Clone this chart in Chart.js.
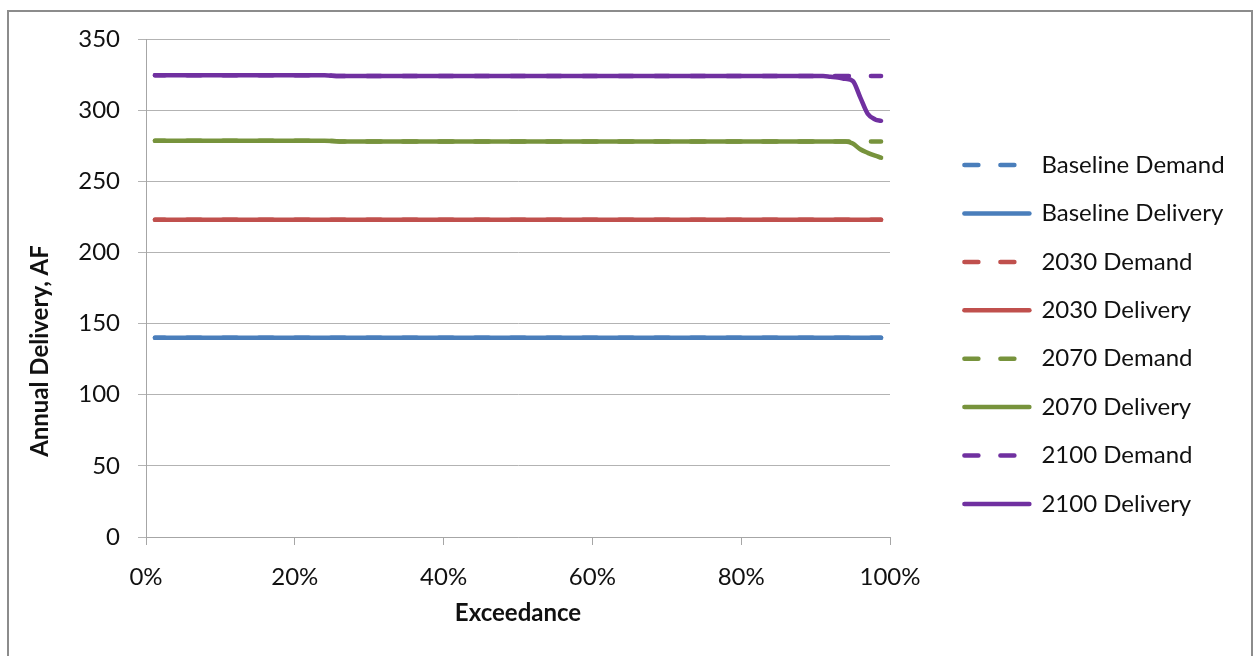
<!DOCTYPE html>
<html>
<head>
<meta charset="utf-8">
<script src="https://cdn.jsdelivr.net/npm/chart.js@4.4.1/dist/chart.umd.min.js"></script>
<style>
  body { margin: 0; background: #fff; }
  .frame { position: absolute; left: 7px; top: 10px; width: 1242px; height: 700px; border: 2px solid #8c8c8c; background: #fff; }
  #chart { position: absolute; left: 0; top: 0; }
</style>
</head>
<body>
<div class="frame"></div>
<canvas id="chart" width="1255" height="656"></canvas>
<script>
const ctx = document.getElementById('chart').getContext('2d');

// exceedance probability (%) of each sorted year
const exceedance = [1.2, 5, 10, 15, 20, 24, 26, 30, 40, 50, 60, 70, 80, 85, 90, 91, 92, 93, 94, 95, 96, 97, 98, 98.8];

// annual demand / delivery, AF
const baselineDemand   = [140, 140, 140, 140, 140, 140, 140, 140, 140, 140, 140, 140, 140, 140, 140, 140, 140, 140, 140, 140, 140, 140, 140, 140];
const baselineDelivery = [140, 140, 140, 140, 140, 140, 140, 140, 140, 140, 140, 140, 140, 140, 140, 140, 140, 140, 140, 140, 140, 140, 140, 140];
const demand2030       = [223, 223, 223, 223, 223, 223, 223, 223, 223, 223, 223, 223, 223, 223, 223, 223, 223, 223, 223, 223, 223, 223, 223, 223];
const delivery2030     = [223, 223, 223, 223, 223, 223, 223, 223, 223, 223, 223, 223, 223, 223, 223, 223, 223, 223, 223, 223, 223, 223, 223, 223];
const demand2070       = [278.5, 278.5, 278.5, 278.5, 278.5, 278.5, 278, 278, 278, 278, 278, 278, 278, 278, 278, 278, 278, 278, 278, 278, 278, 278, 278, 278];
const delivery2070     = [278.5, 278.5, 278.5, 278.5, 278.5, 278.5, 278, 278, 278, 278, 278, 278, 278, 278, 278, 278, 278, 278, 278, 276.5, 272.5, 270, 268, 266.6];
const demand2100       = [324.5, 324.5, 324.5, 324.5, 324.5, 324.5, 324, 324, 324, 324, 324, 324, 324, 324, 324, 324, 324, 324, 324, 324, 324, 324, 324, 324];
const delivery2100     = [324.5, 324.5, 324.5, 324.5, 324.5, 324.5, 324, 324, 324, 324, 324, 324, 324, 324, 324, 324, 323.5, 323, 322, 320.5, 309, 297.5, 293.5, 292.5];

const blue = '#4a7ebb';
const red = '#c0504d';
const green = '#77933c';
const purple = '#7030a0';

Chart.defaults.font.family = 'Lato';
Chart.defaults.font.size = 24;
Chart.defaults.color = '#111';

function points(values) {
    return exceedance.map((x, i) => ({ x: x, y: values[i] }));
}

function series(label, values, color, dashed) {
    return {
        label: label,
        data: points(values),
        borderColor: color,
        backgroundColor: color,
        borderWidth: 4.5,
        borderCapStyle: 'round',
        borderJoinStyle: 'round',
        borderDash: dashed ? [14, 22] : [],
        borderDashOffset: dashed ? 4 : 0,
        pointRadius: 0,
        cubicInterpolationMode: 'monotone',
        fill: false
    };
}

// legend samples copy the line style of their dataset
function legendLabels(c) {
    return Chart.defaults.plugins.legend.labels.generateLabels(c).map(item => {
        const ds = c.data.datasets[item.datasetIndex];
        return Object.assign(item, {
            strokeStyle: ds.borderColor,
            lineWidth: ds.borderWidth,
            lineDash: ds.borderDash,
            lineDashOffset: 0,
            lineCap: 'round'
        });
    });
}

const chart = new Chart(ctx, {
    type: 'line',
    data: {
        datasets: [
            series('Baseline Demand', baselineDemand, blue, true),
            series('Baseline Delivery', baselineDelivery, blue, false),
            series('2030 Demand', demand2030, red, true),
            series('2030 Delivery', delivery2030, red, false),
            series('2070 Demand', demand2070, green, true),
            series('2070 Delivery', delivery2070, green, false),
            series('2100 Demand', demand2100, purple, true),
            series('2100 Delivery', delivery2100, purple, false)
        ]
    },
    options: {
        responsive: false,
        animation: false,
        layout: { padding: { top: 39, right: 0, bottom: 26, left: 0 } },
        plugins: {
            tooltip: { enabled: false },
            legend: {
                position: 'right',
                align: 'center',
                maxWidth: 400,
                labels: {
                    usePointStyle: true,
                    pointStyle: 'line',
                    pointStyleWidth: 65,
                    padding: 24.4,
                    color: '#111',
                    font: { size: 24 },
                    generateLabels: legendLabels
                }
            }
        },
        scales: {
            x: {
                type: 'linear',
                min: 0,
                max: 100,
                ticks: {
                    stepSize: 20,
                    padding: 18,
                    callback: v => v + '%'
                },
                grid: { drawOnChartArea: false, drawTicks: true, tickLength: 8, color: '#a6a6a6' },
                border: { color: '#a6a6a6' },
                title: {
                    display: true,
                    text: 'Exceedance',
                    font: { size: 24, weight: 'bold' },
                    padding: { top: 0, bottom: 2 }
                },
                afterFit: s => { s.height = 93; s.paddingRight = 365; }
            },
            y: {
                min: 0,
                max: 350,
                ticks: { stepSize: 50, padding: 18 },
                grid: { color: '#b3b3b3', tickLength: 8 },
                border: { color: '#a6a6a6' },
                title: {
                    display: true,
                    // trailing em spaces push the title below the axis middle
                    text: 'Annual Delivery, AF' + '\u2003\u2003\u2003\u2003\u2003\u2003\u2003',
                    font: { size: 24, weight: 'bold' },
                    padding: { top: 26, bottom: 0 }
                },
                afterFit: s => { s.width = 146; }
            },
            // empty axis that keeps a gap between the plot and the legend
            y2: {
                position: 'right',
                display: true,
                grid: { display: false },
                ticks: { display: false },
                border: { display: false },
                afterFit: s => { s.width = 50; }
            }
        }
    }
});
</script>
</body>
</html>
